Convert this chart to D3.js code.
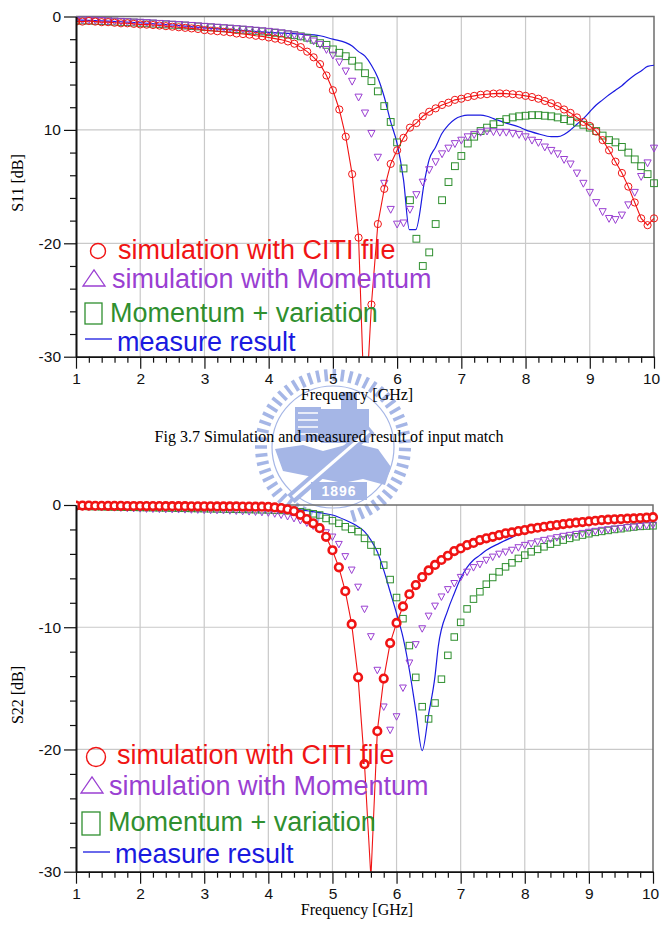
<!DOCTYPE html>
<html lang="en">
<head>
  <meta charset="UTF-8" />
  <title>S11 / S22 simulation and measurement</title>
  <script src="https://cdn.jsdelivr.net/npm/d3@7"></script>
  <style>
    body { margin: 0; background: #fff; }
    svg { display: block; }
  </style>
</head>
<body>
<div id="fig"></div>
<script>
// frequency grid of the simulations (GHz)
const freqGHz = [
  1.0,1.1,1.2,1.3,1.4,1.5,1.6,1.7,1.8,1.9,
  2.0,2.1,2.2,2.3,2.4,2.5,2.6,2.7,2.8,2.9,
  3.0,3.1,3.2,3.3,3.4,3.5,3.6,3.7,3.8,3.9,
  4.0,4.1,4.2,4.3,4.4,4.5,4.6,4.7,4.8,4.9,
  5.0,5.1,5.2,5.3,5.4,5.5,5.6,5.7,5.8,5.9,
  6.0,6.1,6.2,6.3,6.4,6.5,6.6,6.7,6.8,6.9,
  7.0,7.1,7.2,7.3,7.4,7.5,7.6,7.7,7.8,7.9,
  8.0,8.1,8.2,8.3,8.4,8.5,8.6,8.7,8.8,8.9,
  9.0,9.1,9.2,9.3,9.4,9.5,9.6,9.7,9.8,9.9,
  10.0];

// ---- S11 (dB) ----
const s11Citi = [
  -0.45,-0.45,-0.4,-0.45,-0.5,-0.5,-0.55,-0.6,-0.6,-0.65,
  -0.7,-0.72,-0.75,-0.8,-0.85,-0.9,-0.95,-1.0,-1.05,-1.1,
  -1.2,-1.25,-1.3,-1.35,-1.4,-1.5,-1.55,-1.6,-1.7,-1.75,
  -1.85,-1.95,-2.05,-2.2,-2.4,-2.7,-3.1,-3.6,-4.2,-5.2,
  -6.5,-8.2,-10.6,-13.9,-19.5,-36,-25.4,-18.3,-15.2,-13.0,
  -11.8,-10.7,-9.8,-9.4,-8.8,-8.4,-8.1,-7.8,-7.6,-7.35,
  -7.25,-7.1,-7.0,-6.9,-6.85,-6.8,-6.78,-6.8,-6.85,-6.9,
  -7.0,-7.1,-7.25,-7.45,-7.65,-7.9,-8.2,-8.5,-8.9,-9.3,
  -9.65,-10.15,-10.9,-11.8,-12.8,-13.8,-15.0,-16.4,-17.8,-18.4,
  -17.8];
const s11Momentum = [
  -0.3,-0.3,-0.3,-0.32,-0.35,-0.38,-0.4,-0.42,-0.45,-0.48,
  -0.5,-0.53,-0.56,-0.6,-0.63,-0.67,-0.7,-0.74,-0.78,-0.82,
  -0.86,-0.9,-0.94,-0.98,-1.02,-1.06,-1.1,-1.15,-1.2,-1.25,
  -1.3,-1.36,-1.43,-1.52,-1.62,-1.75,-1.92,-2.15,-2.45,-2.9,
  -3.4,-4.0,-4.8,-5.7,-7.1,-8.5,-10.3,-12.4,-14.7,-17.0,
  -18.3,-18.2,-17.0,-15.7,-14.6,-13.5,-12.8,-12.1,-11.6,-11.2,
  -10.9,-10.6,-10.4,-10.2,-10.1,-10.15,-10.2,-10.2,-10.3,-10.4,
  -10.6,-10.9,-11.1,-11.5,-11.8,-12.1,-12.6,-13.0,-13.8,-14.7,
  -15.5,-16.4,-17.2,-17.8,-17.9,-17.5,-16.6,-15.5,-14.1,-12.9,
  -11.6];
const s11Variation = [
  -0.35,-0.35,-0.35,-0.38,-0.4,-0.42,-0.45,-0.48,-0.5,-0.53,
  -0.56,-0.6,-0.63,-0.66,-0.7,-0.73,-0.77,-0.8,-0.84,-0.88,
  -0.92,-0.96,-1.0,-1.04,-1.08,-1.12,-1.17,-1.22,-1.27,-1.32,
  -1.38,-1.44,-1.5,-1.57,-1.65,-1.75,-1.87,-2.05,-2.35,-2.5,
  -2.9,-3.2,-3.5,-3.9,-4.4,-5.0,-5.7,-6.6,-7.9,-9.3,
  -11.1,-13.4,-16.2,-19.6,-22.0,-20.8,-18.3,-16.2,-14.6,-13.2,
  -12.3,-11.2,-10.6,-10.1,-9.8,-9.5,-9.3,-9.05,-8.9,-8.8,
  -8.75,-8.7,-8.7,-8.75,-8.8,-8.9,-9.05,-9.2,-9.35,-9.55,
  -9.8,-10.1,-10.5,-10.9,-11.1,-11.5,-12.0,-12.6,-13.2,-13.9,
  -14.7];
// measured trace: [GHz, dB]
const s11Measured = [
  [1.0,-0.3],[1.5,-0.4],[2.0,-0.55],[2.5,-0.75],[3.0,-1.0],[3.5,-1.2],[4.0,-1.4],
  [4.5,-1.55],[4.8,-1.7],[5.0,-2.0],[5.2,-2.3],[5.3,-2.6],[5.4,-3.1],[5.5,-3.5],
  [5.6,-4.3],[5.7,-5.4],[5.8,-7.1],[5.9,-9.3],[6.0,-11.2],[6.1,-14.4],[6.19,-18.8],
  [6.29,-18.8],[6.43,-14.4],[6.5,-12.6],[6.6,-11.5],[6.7,-10.3],[6.8,-9.55],[6.9,-9.05],
  [7.0,-8.8],[7.1,-8.7],[7.3,-8.7],[7.4,-8.8],[7.5,-9.0],[7.7,-9.4],[7.9,-9.75],
  [8.0,-10.0],[8.2,-10.35],[8.4,-10.6],[8.5,-10.6],[8.6,-10.4],[8.7,-10.0],[8.8,-9.5],
  [8.9,-9.0],[9.0,-8.4],[9.1,-7.8],[9.2,-7.35],[9.3,-6.9],[9.4,-6.5],[9.5,-6.1],
  [9.6,-5.6],[9.7,-5.15],[9.8,-4.8],[9.9,-4.4],[10.0,-4.3]];

// ---- S22 (dB) ----
const s22Citi = [
  -0.05,-0.05,-0.05,-0.06,-0.06,-0.07,-0.07,-0.07,-0.08,-0.08,
  -0.08,-0.09,-0.09,-0.09,-0.1,-0.1,-0.1,-0.1,-0.11,-0.11,
  -0.11,-0.11,-0.12,-0.12,-0.12,-0.12,-0.13,-0.13,-0.14,-0.14,
  -0.15,-0.2,-0.25,-0.35,-0.5,-0.8,-1.15,-1.5,-1.9,-2.6,
  -3.7,-5.1,-7.05,-9.75,-14.1,-21.2,-30.5,-18.5,-14.2,-11.3,
  -9.65,-8.3,-7.3,-6.55,-5.9,-5.35,-4.9,-4.5,-4.15,-3.77,
  -3.55,-3.28,-3.1,-2.87,-2.73,-2.6,-2.46,-2.32,-2.24,-2.13,
  -2.05,-1.94,-1.86,-1.78,-1.7,-1.64,-1.56,-1.5,-1.45,-1.4,
  -1.34,-1.29,-1.23,-1.2,-1.17,-1.15,-1.12,-1.1,-1.07,-1.04,
  -1.0];
const s22Momentum = [
  -0.1,-0.12,-0.13,-0.15,-0.17,-0.18,-0.2,-0.22,-0.24,-0.26,
  -0.28,-0.3,-0.31,-0.32,-0.33,-0.34,-0.35,-0.36,-0.37,-0.38,
  -0.4,-0.41,-0.42,-0.43,-0.45,-0.47,-0.5,-0.52,-0.55,-0.58,
  -0.62,-0.7,-0.8,-0.92,-1.08,-1.25,-1.45,-1.7,-1.95,-2.25,
  -2.6,-3.2,-4.2,-5.3,-6.7,-8.5,-10.75,-13.5,-16.5,-18.4,
  -17.3,-14.95,-12.9,-11.4,-10.1,-9.07,-8.25,-7.5,-6.9,-6.4,
  -5.9,-5.47,-5.1,-4.84,-4.5,-4.24,-4.0,-3.83,-3.68,-3.47,
  -3.28,-3.15,-3.0,-2.87,-2.76,-2.65,-2.54,-2.46,-2.38,-2.3,
  -2.21,-2.13,-2.05,-2.0,-1.94,-1.89,-1.83,-1.78,-1.72,-1.67,
  -1.61];
const s22Variation = [
  -0.1,-0.1,-0.12,-0.13,-0.14,-0.15,-0.16,-0.17,-0.18,-0.19,
  -0.2,-0.21,-0.22,-0.23,-0.24,-0.25,-0.26,-0.27,-0.28,-0.29,
  -0.3,-0.31,-0.32,-0.33,-0.34,-0.35,-0.36,-0.37,-0.38,-0.39,
  -0.4,-0.42,-0.44,-0.47,-0.5,-0.55,-0.62,-0.72,-0.82,-1.1,
  -1.28,-1.5,-1.78,-1.99,-2.18,-2.73,-3.28,-3.82,-4.92,-6.1,
  -7.57,-9.3,-11.5,-14.1,-16.5,-17.5,-16.2,-14.25,-12.3,-10.8,
  -9.6,-8.5,-7.7,-7.1,-6.48,-5.93,-5.47,-5.06,-4.73,-4.37,
  -4.1,-3.83,-3.63,-3.42,-3.2,-3.03,-2.87,-2.73,-2.6,-2.46,
  -2.35,-2.24,-2.16,-2.08,-2.0,-1.94,-1.86,-1.8,-1.75,-1.72,
  -1.7];
const s22Measured = [
  [1.0,-0.05],[2.0,-0.1],[3.0,-0.15],[4.0,-0.25],[4.5,-0.4],[4.8,-0.63],[5.0,-0.82],
  [5.2,-1.23],[5.4,-1.78],[5.5,-2.18],[5.6,-2.87],[5.7,-3.83],[5.8,-5.33],[5.9,-7.1],
  [6.0,-8.88],[6.1,-10.8],[6.2,-13.5],[6.3,-16.8],[6.4,-20.1],[6.5,-17.1],[6.6,-14.0],
  [6.65,-11.6],[6.8,-8.6],[6.9,-7.24],[7.0,-6.0],[7.1,-5.1],[7.2,-4.5],[7.3,-4.1],
  [7.4,-3.7],[7.6,-3.14],[7.8,-2.65],[8.0,-2.19],[8.2,-1.86],[8.4,-1.64],[8.6,-1.5],
  [8.8,-1.37],[9.0,-1.29],[9.2,-1.23],[9.4,-1.17],[9.6,-1.12],[9.8,-1.07],[10.0,-1.0]];

// axes / labels
const xTicks = [1,2,3,4,5,6,7,8,9,10];
const yTicks = [0,-10,-20,-30];
const s11YLabels = ["0","10","-20","-30"];   // the "-" of -10 is lost in the original
const s22YLabels = ["0","-10","-20","-30"];
const legendLabels = ["simulation with CITI file","simulation with Momentum","Momentum + variation","measure result"];
const seriesColors = ["#f01414","#9a3fd2","#2f8f2f","#1a1ae0"];
const captionText = "Fig 3.7 Simulation and measured result of input match";

const W = 661, H = 929;
const svg = d3.select("#fig").append("svg").attr("width", W).attr("height", H);

//------------------------ watermark logo (behind everything)
function drawLogo(cx, cy) {
  var c = "#8fa4e0";
  var g = svg.append("g").attr("transform", "translate(" + cx + "," + cy + ")").style("opacity", 0.8);
  // gear teeth ring
  for (let a = -168; a <= 168; a += 6.5) {
    var r = a * Math.PI / 180;
    g.append("line")
      .attr("x1", 66 * Math.sin(r)).attr("y1", -66 * Math.cos(r))
      .attr("x2", 78 * Math.sin(r)).attr("y2", -78 * Math.cos(r))
      .attr("stroke", c).attr("stroke-width", 3.5);
  }
  g.append("circle").attr("r", 61).attr("fill", "none").attr("stroke", c).attr("stroke-width", 1.2);
  // building
  g.append("rect").attr("x", -38).attr("y", -40).attr("width", 26).attr("height", 34).attr("fill", c);
  g.append("rect").attr("x", -12).attr("y", -38).attr("width", 48).attr("height", 34).attr("fill", c);
  g.append("rect").attr("x", 8).attr("y", -55).attr("width", 16).attr("height", 18).attr("fill", c);
  for (let i = 0; i < 4; i++) {
    g.append("line").attr("x1", -35).attr("x2", -15).attr("y1", -34 + i * 7).attr("y2", -34 + i * 7)
      .attr("stroke", "#fff").attr("stroke-width", 1.5);
  }
  // map / land mass
  g.append("path").attr("d", "M-58,2 L-30,-2 L-10,4 L20,-4 L45,2 L58,20 L52,38 L30,32 L10,36 L-20,30 L-50,24 Z")
    .attr("fill", c);
  // tool
  g.append("line").attr("x1", -42).attr("y1", 52).attr("x2", 38).attr("y2", -18)
    .attr("stroke", c).attr("stroke-width", 11);
  g.append("line").attr("x1", -40).attr("y1", 50).attr("x2", 36).attr("y2", -16)
    .attr("stroke", "#fff").attr("stroke-width", 3);
  // year box
  g.append("rect").attr("x", -22).attr("y", 35).attr("width", 56).attr("height", 18).attr("fill", c);
  g.append("text").attr("x", 6).attr("y", 49).attr("text-anchor", "middle")
    .style("font-family", "'Liberation Sans', Arial, sans-serif").style("font-weight", "bold")
    .style("font-size", "14px").style("fill", "#fff").style("letter-spacing", "1px").text("1896");
}
drawLogo(333, 447);

//------------------------ one chart
function drawChart(cfg) {
  var x = d3.scaleLinear().domain([1, 10]).range([cfg.left, cfg.right]);
  var y = d3.scaleLinear().domain([0, -30]).range([cfg.top, cfg.bottom]);
  var g = svg.append("g");

  // grid
  g.append("g").selectAll("line").data(xTicks.slice(1, -1)).enter().append("line")
    .attr("x1", d => x(d)).attr("x2", d => x(d)).attr("y1", cfg.top).attr("y2", cfg.bottom)
    .attr("stroke", "#c9c9c9").attr("stroke-width", 1.2);
  g.append("g").selectAll("line").data(yTicks.slice(1, -1)).enter().append("line")
    .attr("x1", cfg.left).attr("x2", cfg.right).attr("y1", d => y(d)).attr("y2", d => y(d))
    .attr("stroke", "#c9c9c9").attr("stroke-width", 1.2);

  // top & right frame
  g.append("path")
    .attr("d", "M" + cfg.left + "," + cfg.top + "H" + cfg.right + "V" + cfg.bottom)
    .attr("fill", "none").attr("stroke", "#6e6e6e").attr("stroke-width", 1.5);

  // clip
  var clipId = "clip-" + cfg.name;
  svg.append("clipPath").attr("id", clipId).append("rect")
    .attr("x", cfg.left).attr("y", cfg.top - 6).attr("width", cfg.right - cfg.left + 6)
    .attr("height", cfg.bottom - cfg.top + 6);
  var plot = g.append("g").attr("clip-path", "url(#" + clipId + ")");

  var citi = freqGHz.map((f, i) => [f, cfg.citi[i]]);
  var mom = freqGHz.map((f, i) => [f, cfg.momentum[i]]);
  var vari = freqGHz.map((f, i) => [f, cfg.variation[i]]);

  // measured line
  plot.append("path").datum(cfg.measured)
    .attr("d", d3.line().x(d => x(d[0])).y(d => y(d[1])).curve(d3.curveMonotoneX))
    .attr("fill", "none").attr("stroke", seriesColors[3]).attr("stroke-width", 1.2);

  // momentum + variation squares
  var sq = cfg.sq;
  plot.append("g").selectAll("rect").data(vari).enter().append("rect")
    .attr("x", d => x(d[0]) - sq / 2).attr("y", d => y(d[1]) - sq / 2)
    .attr("width", sq).attr("height", sq)
    .attr("fill", "none").attr("stroke", seriesColors[2]).attr("stroke-width", 1);

  // momentum triangles (pointing down)
  var t = cfg.tri;
  plot.append("g").selectAll("path").data(mom).enter().append("path")
    .attr("d", d => "M" + (x(d[0]) - t) + "," + (y(d[1]) - t * 0.8) + "L" + (x(d[0]) + t) + "," + (y(d[1]) - t * 0.8)
      + "L" + x(d[0]) + "," + (y(d[1]) + t * 1.1) + "Z")
    .attr("fill", "none").attr("stroke", seriesColors[1]).attr("stroke-width", 1);

  // CITI line + circles
  plot.append("path").datum(citi)
    .attr("d", d3.line().x(d => x(d[0])).y(d => y(d[1])))
    .attr("fill", "none").attr("stroke", seriesColors[0]).attr("stroke-width", 1.1);
  plot.append("g").selectAll("circle").data(citi).enter().append("circle")
    .attr("cx", d => x(d[0])).attr("cy", d => y(d[1])).attr("r", cfg.circR)
    .attr("fill", cfg.circFill).attr("stroke", seriesColors[0]).attr("stroke-width", cfg.circW);

  // axes
  var font = "'Liberation Sans', Arial, sans-serif";
  var xAxis = g.append("g").attr("transform", "translate(0," + cfg.bottom + ")")
    .call(d3.axisBottom(x).tickValues(xTicks).tickSize(12).tickSizeOuter(0).tickPadding(4));
  var xMinor = g.append("g").attr("transform", "translate(0," + cfg.bottom + ")")
    .call(d3.axisBottom(x).tickValues(d3.range(12, 100, 2).filter(v => v % 10 != 0).map(v => v / 10))
      .tickSize(6).tickSizeOuter(0).tickFormat(""));
  var yAxis = g.append("g").attr("transform", "translate(" + cfg.left + ",0)")
    .call(d3.axisLeft(y).tickValues(yTicks).tickSize(12).tickSizeOuter(0).tickPadding(3)
      .tickFormat((d, i) => cfg.yLabels[i]));
  var yMinor = g.append("g").attr("transform", "translate(" + cfg.left + ",0)")
    .call(d3.axisLeft(y).tickValues([-2,-4,-6,-8,-12,-14,-16,-18,-22,-24,-26,-28])
      .tickSize(6).tickSizeOuter(0).tickFormat(""));
  [xAxis, xMinor, yAxis, yMinor].forEach(a => {
    a.selectAll("path").attr("stroke", "#111").attr("stroke-width", 1.6);
    a.selectAll("line").attr("stroke", "#111").attr("stroke-width", 1.2);
  });
  xAxis.selectAll("text").style("font-family", font).style("font-size", "15.5px").style("fill", "#111");
  // last label sits on the right page edge; pull it in a touch so it stays whole
  xAxis.selectAll(".tick").filter(d => d === 10).select("text").attr("dx", -3);
  yAxis.selectAll("text").style("font-family", font).style("font-size", "15.5px").style("fill", "#111");

  // axis titles
  g.append("text").attr("x", 357).attr("y", cfg.bottom + 43).attr("text-anchor", "middle")
    .style("font-family", "'Liberation Serif', 'Times New Roman', serif").style("font-size", "16px")
    .text("Frequency [GHz]");
  g.append("text").attr("transform", "translate(23," + cfg.yTitleY + ") rotate(-90)").attr("text-anchor", "middle")
    .style("font-family", "'Liberation Serif', 'Times New Roman', serif").style("font-size", "16px")
    .text(cfg.yTitle);

  // legend
  var L = cfg.legend;
  var lg = g.append("g");
  lg.append("circle").attr("cx", L.circle[0]).attr("cy", L.circle[1]).attr("r", L.circle[2])
    .attr("fill", "none").attr("stroke", seriesColors[0]).attr("stroke-width", 1.4);
  lg.append("path").attr("d", "M" + L.tri.map(p => p.join(",")).join("L") + "Z")
    .attr("fill", "none").attr("stroke", seriesColors[1]).attr("stroke-width", 1.3);
  lg.append("rect").attr("x", L.square[0]).attr("y", L.square[1]).attr("width", L.square[2]).attr("height", L.square[3])
    .attr("fill", "none").attr("stroke", seriesColors[2]).attr("stroke-width", 1.3);
  lg.append("line").attr("x1", L.line[0]).attr("x2", L.line[1]).attr("y1", L.line[2]).attr("y2", L.line[2])
    .attr("stroke", seriesColors[3]).attr("stroke-width", 1.3);
  legendLabels.forEach((txt, i) => {
    lg.append("text").attr("x", L.textX[i]).attr("y", L.textY[i])
      .style("font-family", font).style("font-size", "27px").style("fill", seriesColors[i])
      .text(txt);
  });
}

drawChart({
  name: "s11", left: 76, right: 654, top: 16.5, bottom: 356.7,
  citi: s11Citi, momentum: s11Momentum, variation: s11Variation, measured: s11Measured,
  yLabels: s11YLabels, yTitle: "S11 [dB]", yTitleY: 183,
  circR: 3.6, circW: 1, circFill: "none", tri: 3.6, sq: 6.8,
  legend: {
    circle: [98, 251, 7.5], tri: [[83, 286], [105, 286], [94, 270]], square: [85, 303, 17, 21], line: [85, 112, 339],
    textX: [118, 112, 110, 117], textY: [259, 288, 322, 351]
  }
});

drawChart({
  name: "s22", left: 76, right: 653, top: 505, bottom: 871.7,
  citi: s22Citi, momentum: s22Momentum, variation: s22Variation, measured: s22Measured,
  yLabels: s22YLabels, yTitle: "S22 [dB]", yTitleY: 695,
  circR: 3.8, circW: 2.6, circFill: "#fff", tri: 3.4, sq: 6.5,
  legend: {
    circle: [96, 757, 9.5], tri: [[81, 793], [103, 793], [92, 777]], square: [82, 812, 18, 23], line: [83, 110, 852],
    textX: [117, 109, 108, 115], textY: [764, 795, 831, 863]
  }
});

// caption between the charts
svg.append("text").attr("x", 329).attr("y", 442).attr("text-anchor", "middle")
  .style("font-family", "'Liberation Serif', 'Times New Roman', serif").style("font-size", "16px")
  .text(captionText);
</script>
</body>
</html>
